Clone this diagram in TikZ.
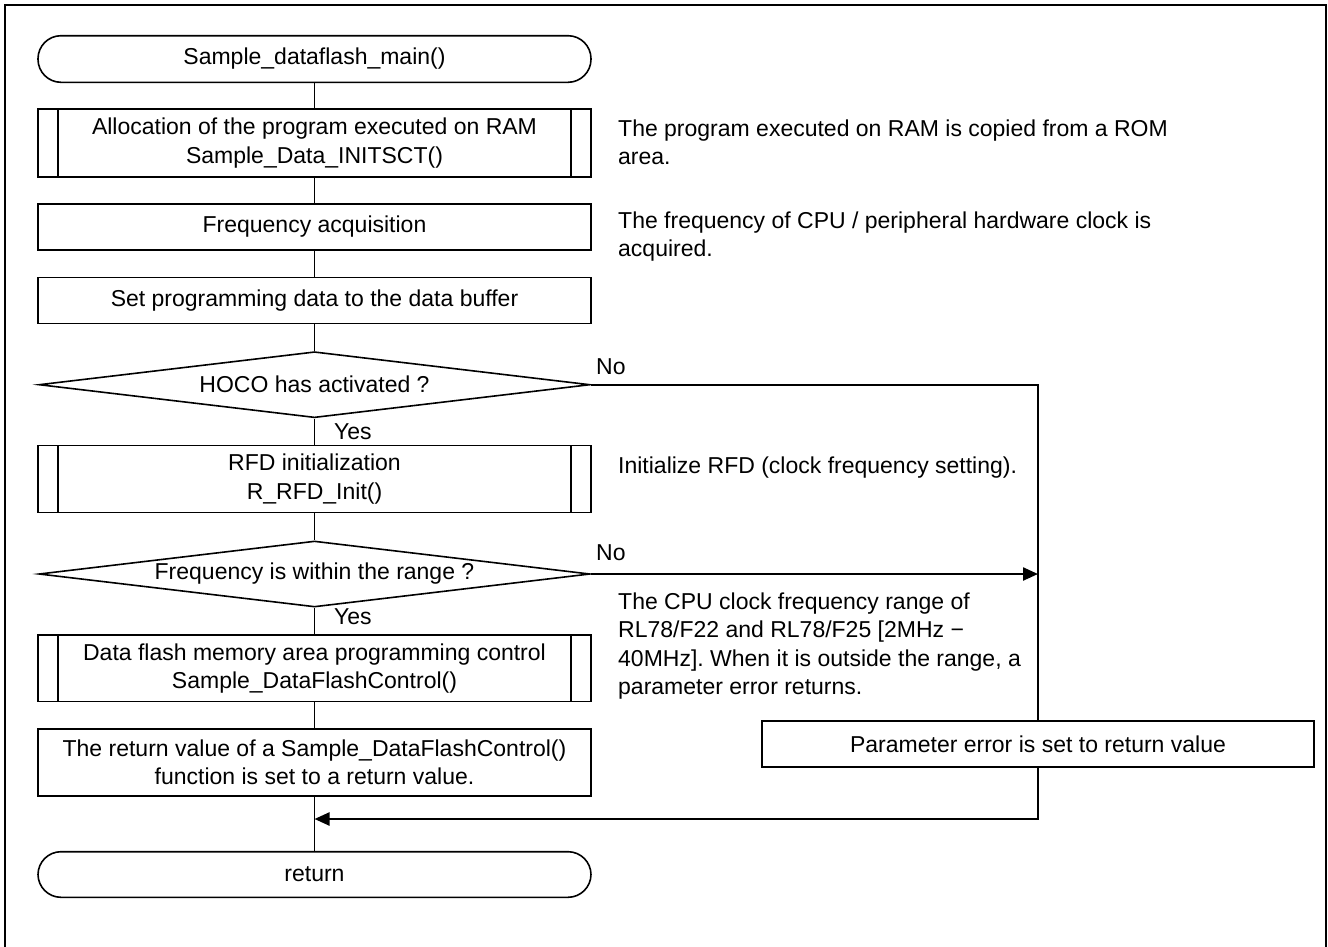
\documentclass[tikz,border=0pt]{standalone}
\usepackage{fontspec}
\setmainfont{Liberation Sans}
\usetikzlibrary{shapes.geometric,arrows.meta}
\frenchspacing
\begin{document}
\begin{tikzpicture}[x=1pt,y=-1pt,
  every node/.style={font=\fontsize{23}{28.4}\selectfont\frenchspacing, inner sep=0pt},
  proc/.style={draw, line width=1.6pt, minimum width=553pt, align=center},
  sub/.style={proc, path picture={
      \draw[line width=1.6pt]
        ([xshift=20pt]path picture bounding box.north west) -- ([xshift=20pt]path picture bounding box.south west)
        ([xshift=-20pt]path picture bounding box.north east) -- ([xshift=-20pt]path picture bounding box.south east);}},
  term/.style={proc, rounded corners=23pt},
  decision/.style={draw, line width=1.6pt, shape=diamond, aspect=8.35, minimum width=551pt, minimum height=66pt, align=center},
  note/.style={anchor=west, align=left},
  lbl/.style={anchor=west},
  conn/.style={line width=1.6pt},
  arr/.style={line width=2.4pt, -{Triangle[length=15pt,width=13pt]}},
  thick line/.style={line width=2.4pt}
]
\useasboundingbox (0,0) rectangle (1328,946);
\draw[line width=2pt] (5,990) -- (5,5) -- (1326,5) -- (1326,990);

% main column
\node[term, minimum height=46.6pt] (start) at (314.5,59) {Sample\_dataflash\_main()};
\node[sub, minimum height=67.7pt] (b1) at (314.5,143) {Allocation of the program executed on RAM\\Sample\_Data\_INITSCT()};
\node[proc, minimum height=46pt] (b2) at (314.5,227) {Frequency acquisition};
\node[proc, minimum height=46pt] (b3) at (314.5,300.5) {Set programming data to the data buffer};
\node[decision] (d1) at (314.5,384.7) {HOCO has activated ?};
\node[sub, minimum height=67pt] (b4) at (314.5,479) {RFD initialization\\R\_RFD\_Init()};
\node[decision] (d2) at (314.5,574) {Frequency is within the range ?};
\node[sub, minimum height=66.7pt] (b5) at (314.5,668.3) {Data flash memory area programming control\\Sample\_DataFlashControl()};
\node[proc, minimum height=67pt] (b6) at (314.5,762.5) {The return value of a Sample\_DataFlashControl()\\function is set to a return value.};
\node[term, minimum height=45.6pt] (ret) at (314.5,874.5) {return};

% error branch
\node[proc, minimum width=552pt, minimum height=46pt] (perr) at (1038,744) {Parameter error is set to return value};

% notes
\node[note] (n1) at (618,142.5) {The program executed on RAM is copied from a ROM\\area.};
\node[note] (n2) at (618,236.5) {The frequency of CPU / peripheral hardware clock is\\acquired.};
\node[note] (n3) at (618,468) {Initialize RFD (clock frequency setting).};
\node[note] (n4) at (618,646) {The CPU clock frequency range of\\RL78/F22 and RL78/F25 [2MHz −\\40MHz]. When it is outside the range, a\\parameter error returns.};

% labels
\node[lbl] (no1) at (596,367) {No};
\node[lbl] (no2) at (596,553) {No};
\node[lbl] (yes1) at (334,431.5) {Yes};
\node[lbl] (yes2) at (334,617) {Yes};

% coordinates
\coordinate (c1) at (1038,384.7);
\coordinate (j2) at (1038,574);
\coordinate (c3) at (1038,819);
\coordinate (j3) at (314.5,819);

% connectors
\draw[conn] (start.south) -- (b1.north);
\draw[conn] (b1.south) -- (b2.north);
\draw[conn] (b2.south) -- (b3.north);
\draw[conn] (b3.south) -- (d1.north);
\draw[conn] (d1.south) -- (b4.north);
\draw[conn] (b4.south) -- (d2.north);
\draw[conn] (d2.south) -- (b5.north);
\draw[conn] (b5.south) -- (b6.north);
\draw[conn] (b6.south) -- (ret.north);
\draw[thick line] (d1.east) -- (c1) -- (perr.north);
\draw[arr] (d2.east) -- (j2);
\draw[arr] (perr.south) -- (c3) -- (j3);
\end{tikzpicture}
\end{document}
